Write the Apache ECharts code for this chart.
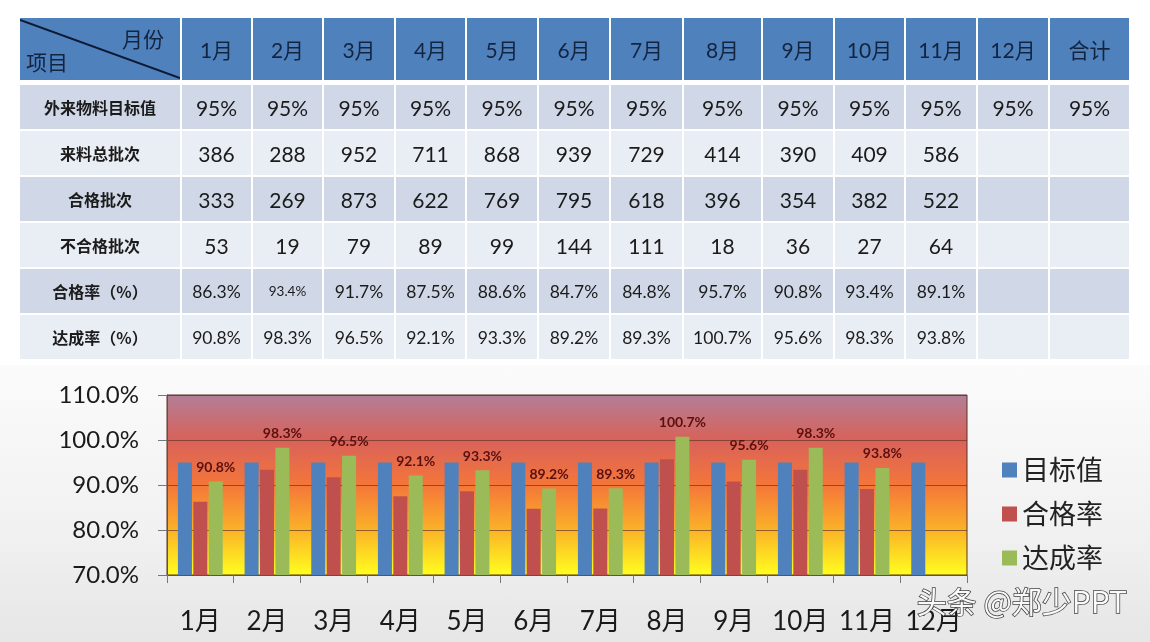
<!DOCTYPE html>
<html>
<head>
<meta charset="utf-8">
<script src="https://cdn.jsdelivr.net/npm/echarts@6/dist/echarts.min.js"></script>
<style>
  html, body { margin:0; padding:0; width:1150px; height:642px; overflow:hidden; background:#ffffff; }
  #bg { position:absolute; left:0; top:365px; width:1150px; height:277px;
        background:linear-gradient(to bottom, #fbfbfb 0%, #f1f1f1 60%, #e6e6e6 100%); }
  #chart { position:absolute; left:0; top:0; width:1150px; height:642px; }
  #tbl { position:absolute; left:20px; top:18px; z-index:2;
         display:grid; column-gap:2px; row-gap:2px;
         grid-template-columns:160px 69px 69px 70px 69px 70px 70px 71px 77px 70px 69px 70px 70px 79px;
         grid-template-rows:65px 44px 44px 44px 44px 44px 44px;
         font-family:"Lato","Noto Sans CJK SC",sans-serif; }
  #tbl div { display:flex; align-items:center; justify-content:center; color:#1b1b1b; }
  #tbl .hd { background:#4f81bd; color:#14243f; font-size:21px; margin-bottom:3px; }
  #tbl .r0 { background:#d0d8e8; }
  #tbl .r1 { background:#e9edf4; }
  #tbl .lab { font-family:"Noto Sans CJK SC",sans-serif; font-weight:bold; font-size:16px; }
  #tbl .num { font-size:21px; }
  #tbl .pct { font-size:17.5px; }
  #tbl .corner { position:relative; display:block; }
</style>
</head>
<body>
<div id="bg"></div>
<div id="chart"></div>
<div id="tbl"></div>
<script>
// ---- data ----
const months = ['1月','2月','3月','4月','5月','6月','7月','8月','9月','10月','11月','12月'];
const totalLabel = '合计';
const rowLabels = ['外来物料目标值','来料总批次','合格批次','不合格批次','合格率（%）','达成率（%）'];
const targetRow = ['95%','95%','95%','95%','95%','95%','95%','95%','95%','95%','95%','95%','95%'];
const totalBatches = [386,288,952,711,868,939,729,414,390,409,586];
const passBatches  = [333,269,873,622,769,795,618,396,354,382,522];
const failBatches  = [53,19,79,89,99,144,111,18,36,27,64];
const passRate     = [86.3,93.4,91.7,87.5,88.6,84.7,84.8,95.7,90.8,93.4,89.1];
const achieveRate  = [90.8,98.3,96.5,92.1,93.3,89.2,89.3,100.7,95.6,98.3,93.8];
const targetRate   = [95,95,95,95,95,95,95,95,95,95,95,95];
const seriesNames  = ['目标值','合格率','达成率'];

// ---- table ----
const tbl = document.getElementById('tbl');
function cell(cls, txt) {
  const d = document.createElement('div');
  d.className = cls; d.textContent = txt;
  tbl.appendChild(d); return d;
}
const corner = document.createElement('div');
corner.className = 'hd corner';
corner.innerHTML = '<svg width="160" height="62" style="position:absolute;left:0;top:0"><line x1="0" y1="2" x2="160" y2="60" stroke="#0d1a33" stroke-width="2"/></svg>' +
  '<span style="position:absolute;right:16px;top:5px;font-size:21px;color:#14243f;font-family:Noto Sans CJK SC">月份</span>' +
  '<span style="position:absolute;left:6px;bottom:4px;font-size:21px;color:#14243f;font-family:Noto Sans CJK SC">项目</span>';
tbl.appendChild(corner);
months.concat([totalLabel]).forEach(m => cell('hd', m));
const rows = [targetRow, totalBatches, passBatches, failBatches,
  passRate.map(v => v.toFixed(1) + '%'), achieveRate.map(v => v.toFixed(1) + '%')];
rows.forEach((r, i) => {
  const cls = i % 2 === 0 ? 'r0' : 'r1';
  cell(cls + ' lab', rowLabels[i]);
  for (let c = 0; c < 13; c++) {
    const v = r[c] !== undefined ? String(r[c]) : '';
    const d = cell(cls + ' ' + (i >= 4 ? 'pct' : 'num'), v);
    if (i === 4 && c === 1) d.style.fontSize = '13.5px';
  }
});

// ---- chart ----
const chart = echarts.init(document.getElementById('chart'), null, {renderer:'canvas'});
chart.setOption({
  animation: false,
  color: ['#4f81bd','#c0504d','#9bbb59'],
  grid: {
    left: 167, right: 183, top: 395, bottom: 67,
    show: true,
    backgroundColor: new echarts.graphic.LinearGradient(0,0,0,1,[
      {offset:0, color:'#b27f98'},
      {offset:0.25, color:'#d8625a'},
      {offset:0.5, color:'#f4763a'},
      {offset:0.75, color:'#fbb228'},
      {offset:1, color:'#ffff1e'}
    ]),
    borderColor:'#5a3328', borderWidth:1
  },
  legend: {
    orient:'vertical', left:997, top:450,
    itemWidth:15, itemHeight:15, itemGap:14, icon:'rect',
    textStyle:{ fontSize:27, color:'#222', fontFamily:'Noto Sans CJK SC', lineHeight:30 },
    data: seriesNames
  },
  xAxis: {
    type:'category', data: months,
    axisLine:{ lineStyle:{ color:'#555' } },
    axisTick:{ show:true, length:8, lineStyle:{ color:'#777' } },
    axisLabel:{ interval:0, fontSize:26, color:'#1a1a1a', margin:34, fontFamily:'Lato, Noto Sans CJK SC' }
  },
  yAxis: {
    type:'value', min:70, max:110, interval:10,
    axisLine:{ show:true, lineStyle:{ color:'#555' } },
    axisTick:{ show:true, length:9, lineStyle:{ color:'#777' } },
    splitLine:{ lineStyle:{ color:'rgba(90,50,30,0.65)', width:1 } },
    axisLabel:{ fontSize:24, color:'#1a1a1a', margin:28, fontFamily:'Lato',
      formatter: v => v.toFixed(1) + '%' }
  },
  series: [
    { name: seriesNames[0], type:'bar', data: targetRate, barWidth:14, barGap:'10%' },
    { name: seriesNames[1], type:'bar', data: passRate, barWidth:14, barGap:'10%' },
    { name: seriesNames[2], type:'bar', data: achieveRate, barWidth:14, barGap:'10%',
      label:{ show:true, position:'top', distance:7, color:'#5a1010', fontWeight:'bold',
        fontSize:14, fontFamily:'Lato', formatter: p => p.value.toFixed(1) + '%' } }
  ],
  graphic: [
    { type:'text', left:916, top:586, z:100,
      style:{ text:'头条 @郑少PPT', fontSize:30, fontFamily:'Noto Sans CJK SC',
        fill:'rgba(255,255,255,0.95)', stroke:'rgba(30,30,30,0.85)', lineWidth:1.5 } }
  ]
});
</script>
</body>
</html>
